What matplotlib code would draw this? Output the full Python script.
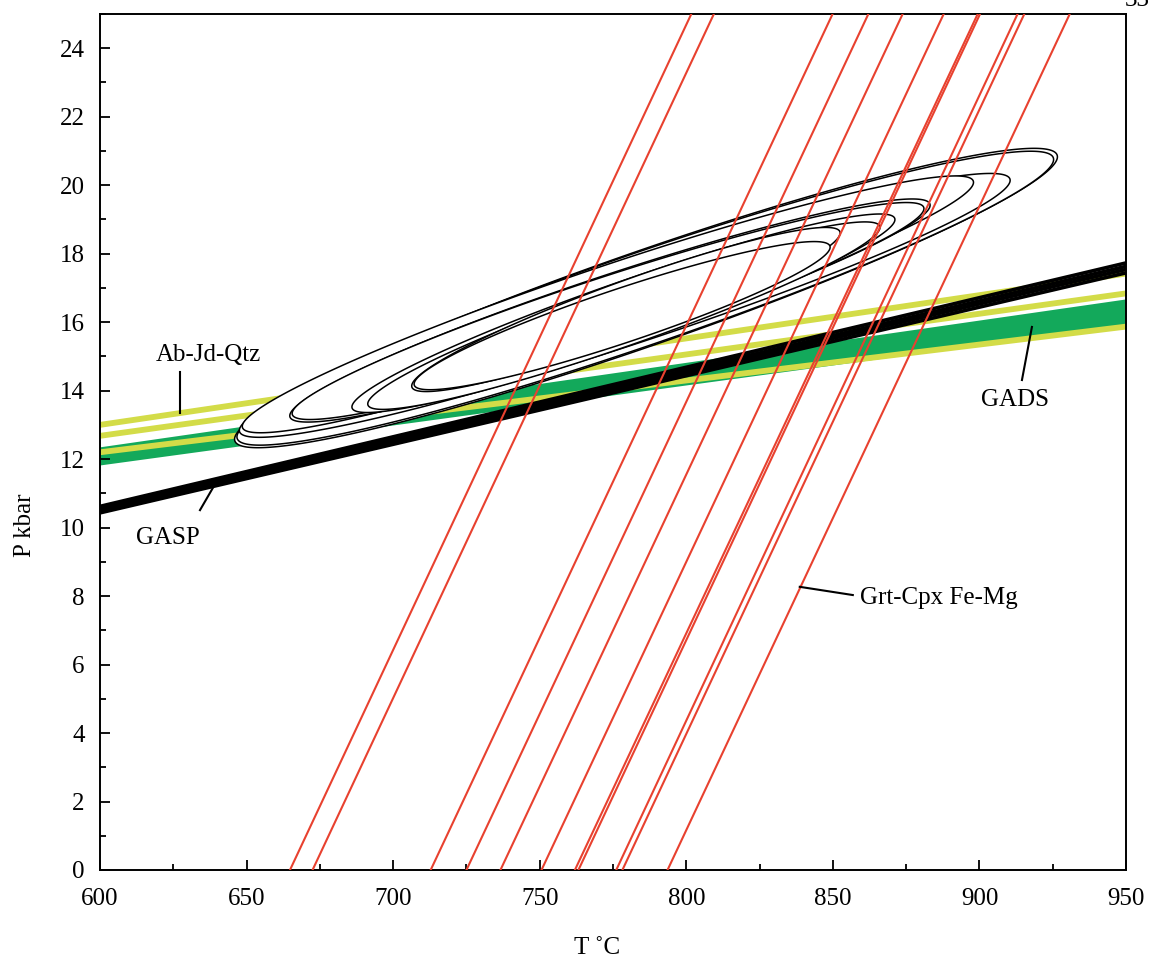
import numpy as np
import matplotlib.pyplot as plt
from matplotlib.ticker import MultipleLocator

plt.rcParams['font.family'] = ['Liberation Serif', 'DejaVu Serif']

# Grt-Cpx Fe-Mg isopleths: T at P = 0 kbar and at P = 25 kbar
grtcpx_t0 = [664.8, 672.5, 712.8, 725.0, 736.6, 750.6, 762.0, 763.2, 776.1, 778.2, 793.6]
grtcpx_t25 = [801.7, 809.4, 849.9, 862.1, 873.8, 887.8, 899.4, 900.2, 913.0, 915.3, 930.8]

# Ab-Jd-Qtz lines: P at 600 and 950 C
abjd_p600 = [13.0, 12.68, 12.2]
abjd_p950 = [17.42, 16.84, 15.87]

# GADS band edges
gads_low = [11.83, 15.92]
gads_high = [12.36, 16.68]

# GASP lines
gasp_p600 = [10.43, 10.49, 10.55, 10.62]
gasp_p950 = [17.44, 17.54, 17.63, 17.73]

# error ellipses: left tip, right tip, half width (px)
ell_t1 = [646.0, 646.8, 647.6, 648.6, 664.8, 665.6, 686.0, 691.4, 706.4, 707.2]
ell_p1 = [12.53, 12.60, 12.80, 12.92, 13.23, 13.30, 13.49, 13.58, 14.10, 14.16]
ell_t2 = [926.5, 925.2, 910.4, 897.9, 883.1, 881.0, 871.1, 866.0, 852.4, 849.0]
ell_p2 = [20.88, 20.80, 20.18, 20.12, 19.45, 19.35, 19.03, 18.80, 18.64, 18.22]
ell_hw = [47, 46, 40, 38, 35, 34, 31, 30, 28, 27]

TMIN, TMAX, PMIN, PMAX = 600, 950, 0, 25

fig = plt.figure(figsize=(11.51, 9.66), dpi=100)
ax = fig.add_axes([0.0869, 0.0994, 0.8914, 0.8861])
ax.set_xlim(TMIN, TMAX)
ax.set_ylim(PMIN, PMAX)

# pixel scale of the axes, used to build ellipses in screen proportions
sx = 0.8914 * 1151 / (TMAX - TMIN)
sy = 0.8861 * 966 / (PMAX - PMIN)

yellow = '#d3dc48'
green = '#13a95b'
red = '#e8412f'

tt = np.array([TMIN, TMAX])

# GADS
ax.fill_between(tt, gads_low, gads_high, color=green, lw=0, zorder=1)

# Ab-Jd-Qtz
for a, b in zip(abjd_p600, abjd_p950):
    ax.plot(tt, [a, b], color=yellow, lw=4.2, solid_capstyle='butt', zorder=2)

# GASP
for a, b in zip(gasp_p600, gasp_p950):
    ax.plot(tt, [a, b], color='black', lw=2.6, solid_capstyle='butt', zorder=3)

# ellipses (white filled, largest first)
s = np.linspace(0, 2 * np.pi, 400)
for i in range(len(ell_t1)):
    x1, y1 = ell_t1[i] * sx, ell_p1[i] * sy
    x2, y2 = ell_t2[i] * sx, ell_p2[i] * sy
    cx, cy = (x1 + x2) / 2, (y1 + y2) / 2
    a = np.hypot(x2 - x1, y2 - y1) / 2
    th = np.arctan2(y2 - y1, x2 - x1)
    b = ell_hw[i]
    ex = cx + a * np.cos(th) * np.cos(s) - b * np.sin(th) * np.sin(s)
    ey = cy + a * np.sin(th) * np.cos(s) + b * np.cos(th) * np.sin(s)
    ax.fill(ex / sx, ey / sy, facecolor='white', edgecolor='black', lw=1.1, zorder=4 + i * 0.01)

# Grt-Cpx Fe-Mg
for a, b in zip(grtcpx_t0, grtcpx_t25):
    ax.plot([a, b], [PMIN, PMAX], color=red, lw=1.5, zorder=5)

# labels with leaders
fs = 18
ax.text(636.8, 15.04, 'Ab-Jd-Qtz', fontsize=fs, ha='center', va='center', zorder=6)
ax.plot([627.3, 627.3], [14.54, 13.36], color='black', lw=1.5, zorder=6)
ax.text(623.2, 9.70, 'GASP', fontsize=fs, ha='center', va='center', zorder=6)
ax.plot([634.1, 638.5], [10.51, 11.16], color='black', lw=1.5, zorder=6)
ax.text(912.0, 13.73, 'GADS', fontsize=fs, ha='center', va='center', zorder=6)
ax.plot([914.5, 917.9], [14.31, 15.86], color='black', lw=1.5, zorder=6)
ax.text(859.2, 7.94, 'Grt-Cpx Fe-Mg', fontsize=fs, ha='left', va='center', zorder=6)
ax.plot([856.8, 838.7], [8.03, 8.27], color='black', lw=1.5, zorder=6)

# axes styling
ax.xaxis.set_major_locator(MultipleLocator(50))
ax.xaxis.set_minor_locator(MultipleLocator(25))
ax.yaxis.set_major_locator(MultipleLocator(2))
ax.yaxis.set_minor_locator(MultipleLocator(1))
ax.tick_params(which='both', direction='in', top=False, right=False, width=1.3, labelsize=fs)
ax.tick_params(axis='x', which='major', length=7, pad=13)
ax.tick_params(axis='x', which='minor', length=4.5)
ax.tick_params(axis='y', which='major', length=7, pad=11)
ax.tick_params(axis='y', which='minor', length=4.5)
for sp in ax.spines.values():
    sp.set_linewidth(1.4)

ax.set_xlabel('T ˚C', fontsize=fs)
ax.set_ylabel('P kbar', fontsize=fs)
ax.xaxis.set_label_coords(0.484, -0.078)
ax.yaxis.set_label_coords(-0.062, 0.403)

fig.text(0.988, 1.0, '33', fontsize=fs, ha='center', va='center')

fig.savefig('out.png', dpi=100)
